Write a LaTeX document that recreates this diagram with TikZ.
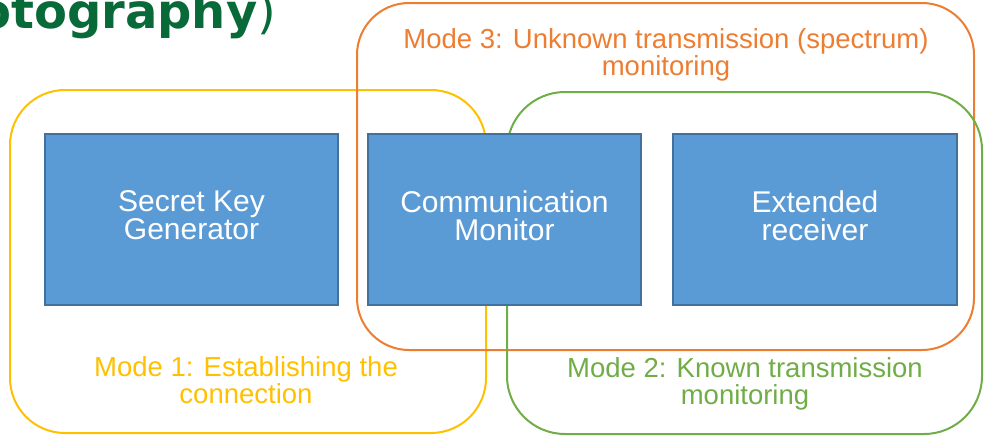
\documentclass[tikz,border=0pt]{standalone}
\usepackage{fontspec}
\setmainfont{Liberation Sans}
\newfontfamily\titlefont{DejaVu Sans}
\definecolor{titlegreen}{HTML}{076A38}
\definecolor{myyellow}{HTML}{FFC000}
\definecolor{myorange}{HTML}{ED7D31}
\definecolor{mygreen}{HTML}{70AD47}
\definecolor{boxfill}{HTML}{5B9BD5}
\definecolor{boxborder}{HTML}{41719C}
\begin{document}
\begin{tikzpicture}[x=1pt,y=-1pt,
  frame/.style={draw, rectangle, line width=2pt, inner sep=0pt, outer sep=0pt},
  bluebox/.style={draw=boxborder, fill=boxfill, rectangle, line width=1.3pt,
    text=white, align=center, font=\fontsize{30}{28}\selectfont,
    text depth=8pt, inner sep=0pt, outer sep=0pt},
  modelabel/.style={anchor=north, align=center, inner sep=0pt,
    font=\fontsize{27.5}{27}\selectfont}]
\useasboundingbox (0,0) rectangle (987,440);
% title fragment
\node[anchor=base west, inner sep=0pt, text=titlegreen,
  font=\titlefont\fontsize{48}{48}\selectfont] (title) at (-22,28.5)
  {\bfseries otography\mdseries)};
% mode frames
\node[frame, draw=myyellow, rounded corners=55pt, minimum width=476pt, minimum height=343pt] (m1) at (248,261.5) {};
\node[frame, draw=myorange, rounded corners=52pt, minimum width=617pt, minimum height=347pt] (m3) at (665.5,176.5) {};
\node[frame, draw=mygreen, rounded corners=58pt, minimum width=475pt, minimum height=342pt] (m2) at (744.5,263) {};
% blue boxes
\node[bluebox, minimum width=293pt, minimum height=171pt] (skg) at (191.5,219.5) {Secret Key\\Generator};
\node[bluebox, minimum width=273pt, minimum height=171pt] (cm) at (504.5,219.5) {Communication\\Monitor};
\node[bluebox, minimum width=284pt, minimum height=171pt] (er) at (815,219.5) {Extended\\receiver};
% labels
\node[modelabel, text=myorange] (l3) at (666,28) {Mode 3: Unknown transmission (spectrum)\\monitoring};
\node[modelabel, text=myyellow] (l1) at (246,356.3) {Mode 1: Establishing the\\connection};
\node[modelabel, text=mygreen] (l2) at (745,357.3) {Mode 2: Known transmission\\monitoring};
\end{tikzpicture}
\end{document}
